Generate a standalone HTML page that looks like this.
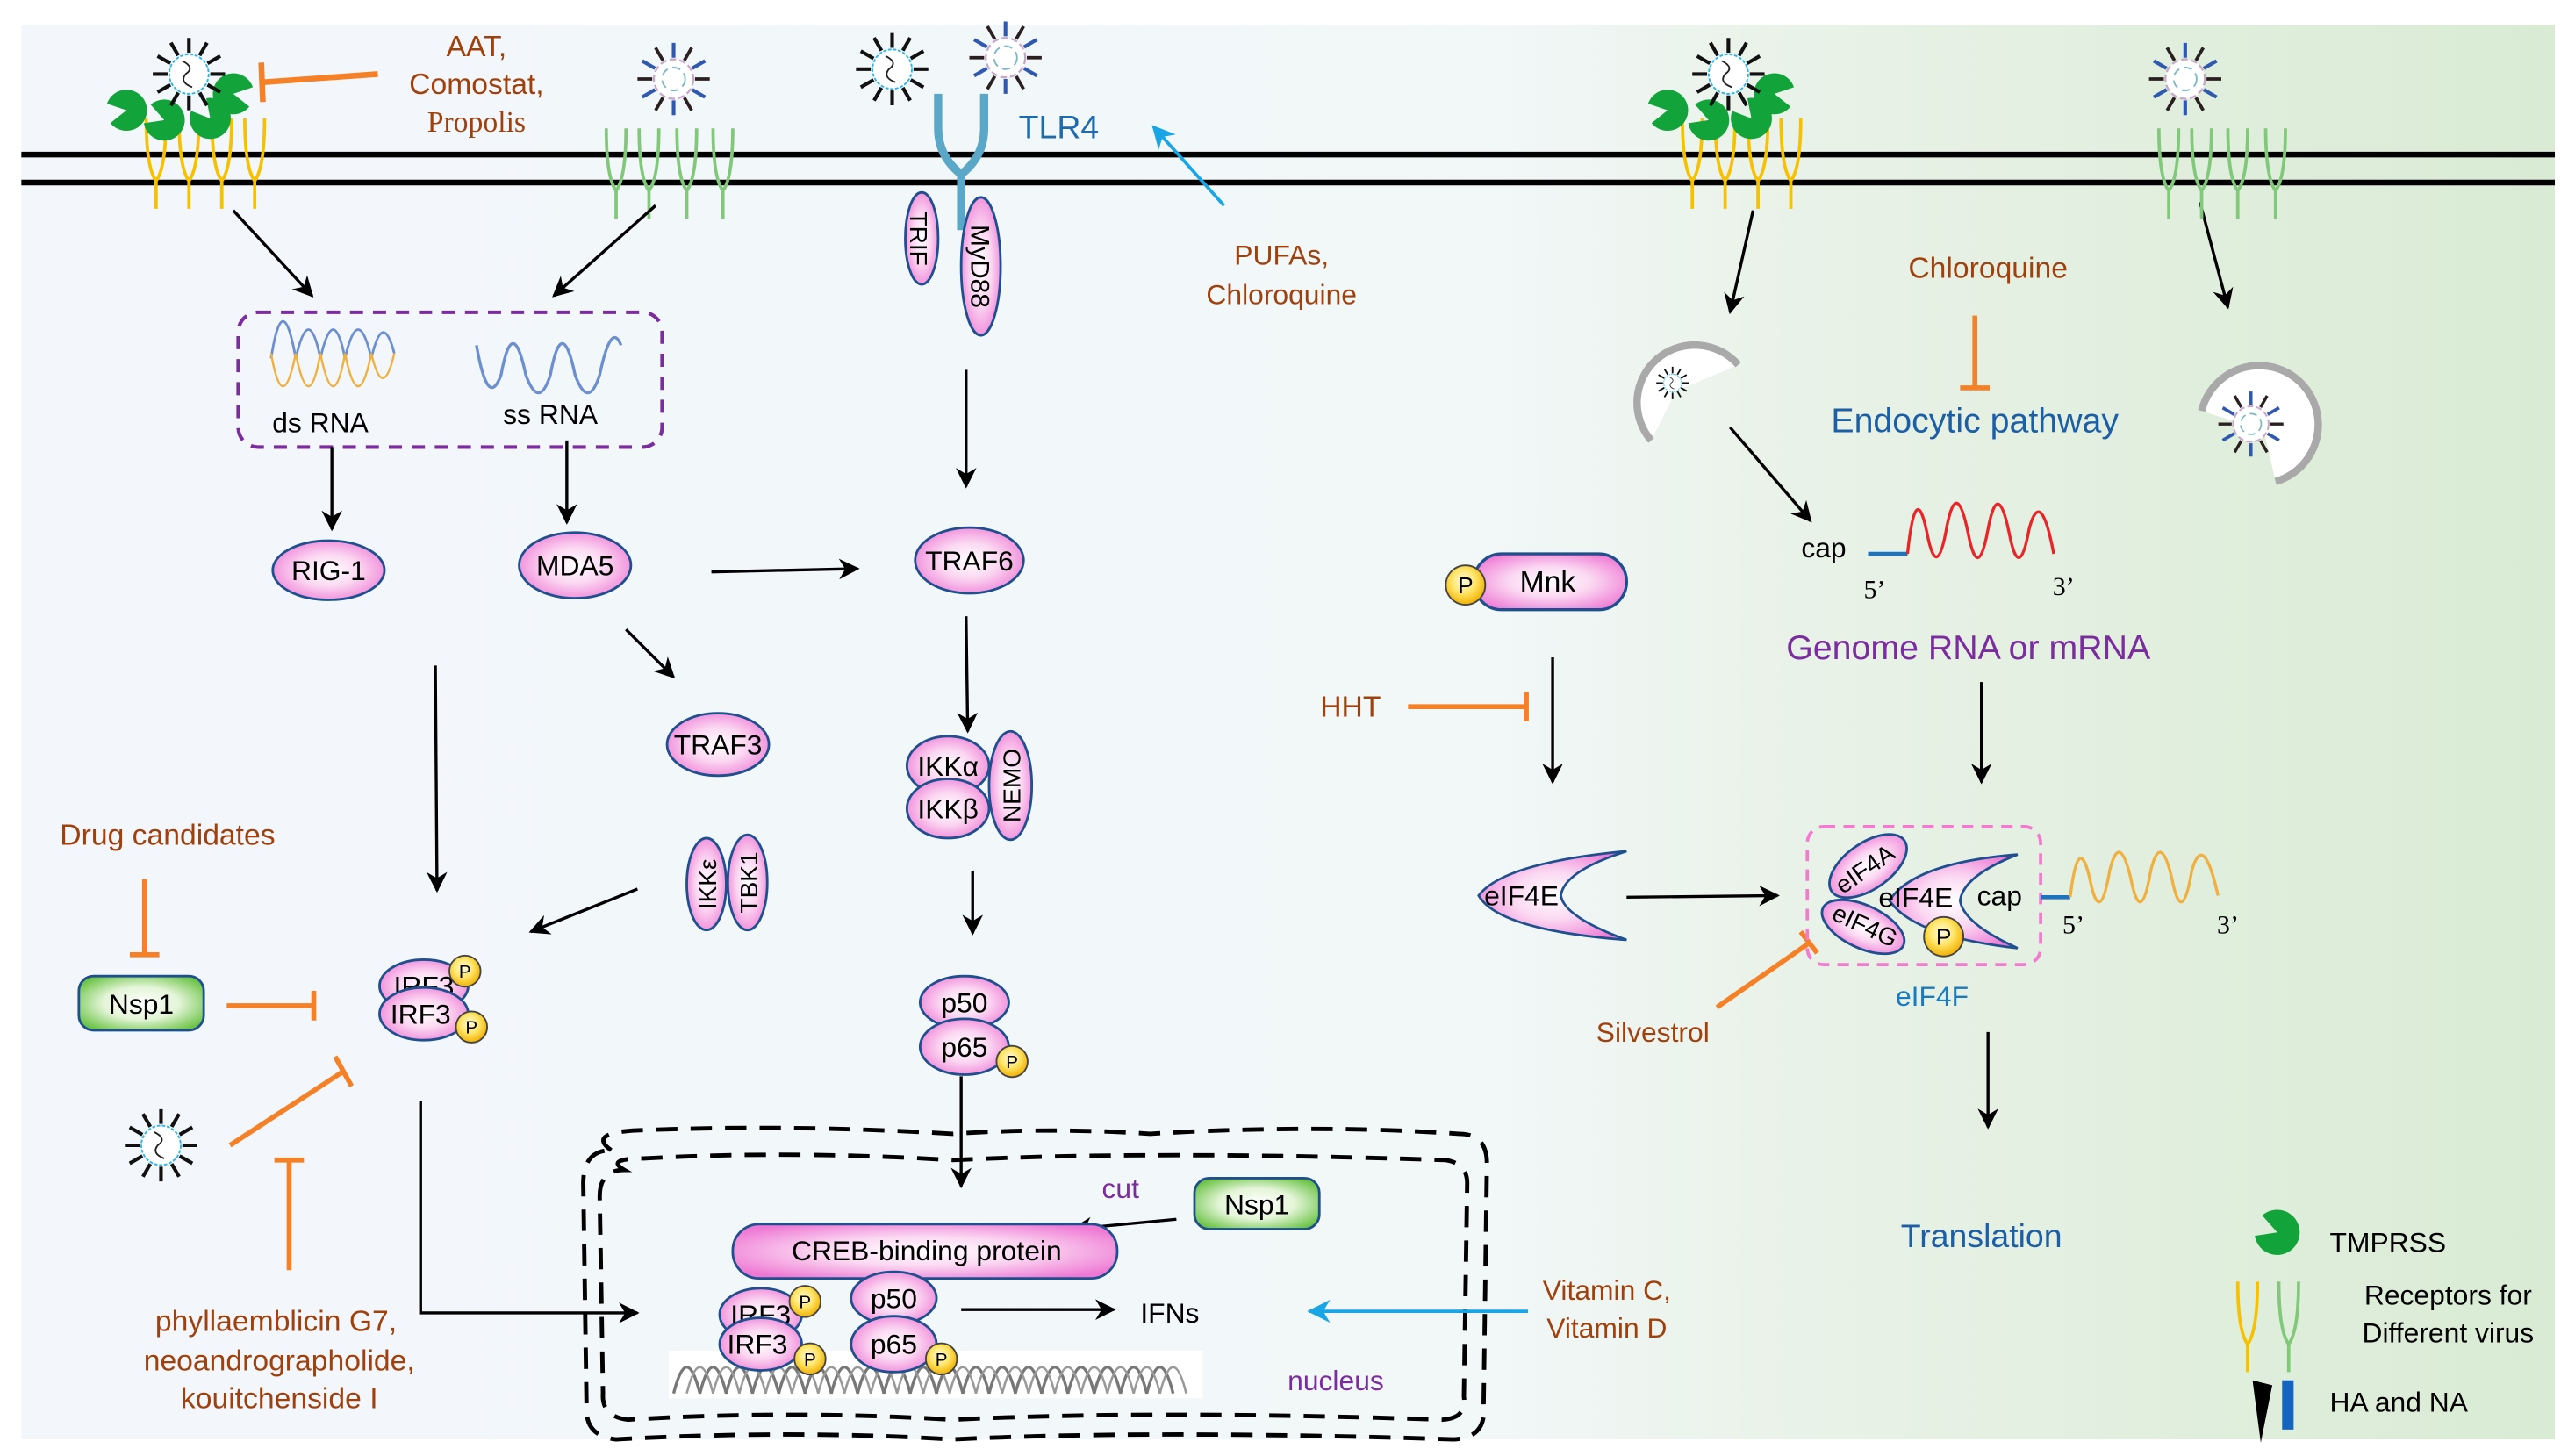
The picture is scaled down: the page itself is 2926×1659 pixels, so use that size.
<!DOCTYPE html>
<html><head><meta charset="utf-8"><style>
html,body{margin:0;padding:0;background:#fff;}
svg{display:block;}
text{font-family:"Liberation Sans",Arial,sans-serif;}
.s{font-family:"Liberation Serif",serif;}
</style></head><body>
<svg width="2926" height="1659" viewBox="0 0 1563 886" xmlns="http://www.w3.org/2000/svg">
<defs>
<linearGradient id="bg" x1="0" y1="0" x2="1" y2="0">
<stop offset="0" stop-color="#f3f7fc"/><stop offset="0.58" stop-color="#f2f7f8"/><stop offset="0.7" stop-color="#e9f2e8"/><stop offset="1" stop-color="#d9ebd4"/></linearGradient>
<radialGradient id="pk" cx="0.5" cy="0.5" r="0.6"><stop offset="0" stop-color="#fff"/><stop offset="0.45" stop-color="#fbd8f2"/><stop offset="1" stop-color="#ee78d4"/></radialGradient>
<radialGradient id="gr" cx="0.5" cy="0.5" r="0.6"><stop offset="0" stop-color="#fff"/><stop offset="0.5" stop-color="#e4f5d8"/><stop offset="1" stop-color="#6cc447"/></radialGradient>
<radialGradient id="yl" cx="0.45" cy="0.4" r="0.6"><stop offset="0" stop-color="#fffbe0"/><stop offset="0.5" stop-color="#ffe66a"/><stop offset="1" stop-color="#f2b000"/></radialGradient>
<marker id="ah" viewBox="0 0 10 10" refX="9" refY="5" markerWidth="7" markerHeight="7" orient="auto-start-reverse"><path d="M0,0 L10,5 L0,10 L3,5 Z" fill="#000"/></marker>
<marker id="ab" viewBox="0 0 10 10" refX="9" refY="5" markerWidth="7" markerHeight="7" orient="auto"><path d="M0,0 L10,5 L0,10 L3,5 Z" fill="#19a6e6"/></marker>
<g id="spk"><path d="M13,0L22,0M11.3,6.5L19.1,11M6.5,11.3L11,19.1M0,13L0,22M-6.5,11.3L-11,19.1M-11.3,6.5L-19.1,11M-13,0L-22,0M-11.3,-6.5L-19.1,-11M-6.5,-11.3L-11,-19.1M0,-13L0,-22M6.5,-11.3L11,-19.1M11.3,-6.5L19.1,-11" stroke-width="2.2"/></g>
<g id="vir"><circle r="12" fill="#fff" stroke="#29b6e8" stroke-width="1" stroke-dasharray="2 1"/><path d="M-4,-8 Q4,-4 -2,0 Q-6,5 2,8" fill="none" stroke="#222" stroke-width="1"/><use href="#spk" stroke="#111"/></g>
<g id="virb"><circle r="12" fill="#fff" stroke="#c8a6c8" stroke-width="1.2" stroke-dasharray="4 2"/><circle r="7" fill="none" stroke="#7ab8c8" stroke-width="1" stroke-dasharray="5 3"/><path d="M13,0L22,0M6.5,11.3L11,19.1M-6.5,11.3L-11,19.1M-13,0L-22,0M-6.5,-11.3L-11,-19.1M6.5,-11.3L11,-19.1" stroke="#2a2020" stroke-width="2"/><path d="M11.3,6.5L19.1,11M0,13L0,22M-11.3,6.5L-19.1,11M-11.3,-6.5L-19.1,-11M0,-13L0,-22M11.3,-6.5L19.1,-11" stroke="#2f58b0" stroke-width="2.2"/></g>
<path id="yy" d="M-6,0 Q-6,30 0,38 Q6,30 6,0 M0,36 L0,55" fill="none" stroke-width="2"/>
<path id="pac" d="M0,0 L11,-6 A12.5,12.5 0 1,0 11,6 Z" fill="#12a33a"/>
</defs>

<rect x="0" y="0" width="1563" height="886" fill="#fff"/>
<rect x="13" y="15" width="1542" height="861" fill="url(#bg)"/>

<line x1="13" y1="94" x2="1555" y2="94" stroke="#000" stroke-width="3.5"/>
<line x1="13" y1="111" x2="1555" y2="111" stroke="#000" stroke-width="3.5"/>

<g stroke="#f6c100"><use href="#yy" x="95" y="72"/><use href="#yy" x="115" y="72"/><use href="#yy" x="135" y="72"/><use href="#yy" x="155" y="72"/></g>
<use href="#pac" transform="translate(77,67) rotate(170)"/>
<use href="#pac" transform="translate(100,73) rotate(200)"/>
<use href="#pac" transform="translate(128,72) rotate(230)"/>
<use href="#pac" transform="translate(142,57) rotate(10)"/>
<use href="#vir" x="115" y="45"/>
<g stroke="#82c87a"><use href="#yy" x="375" y="78"/><use href="#yy" x="395" y="78"/><use href="#yy" x="418" y="78"/><use href="#yy" x="440" y="78"/></g>
<use href="#virb" x="410" y="48"/>
<use href="#vir" x="543" y="42"/>
<use href="#virb" x="612" y="35"/>
<path d="M571,57 L571,78 Q571,95 585,106 Q599,95 599,78 L599,57 M585,104 L585,140" fill="none" stroke="#5aa7c8" stroke-width="5"/>
<text x="620" y="84" font-size="20" fill="#1f6aae">TLR4</text>
<line x1="745" y1="125" x2="702" y2="77" stroke="#19a6e6" stroke-width="2" marker-end="url(#ab)"/>
<ellipse cx="561" cy="145" rx="10" ry="28" fill="url(#pk)" stroke="#1e4f8f" stroke-width="1.5"/>
<text transform="translate(554,145) rotate(90)" font-size="15" text-anchor="middle">TRIF</text>
<ellipse cx="597" cy="162" rx="12" ry="42" fill="url(#pk)" stroke="#1e4f8f" stroke-width="1.5"/>
<text transform="translate(591,162) rotate(90)" font-size="16" text-anchor="middle">MyD88</text>

<text x="290" y="34" font-size="18" fill="#a0410d" text-anchor="middle">AAT,</text>
<text x="290" y="57" font-size="18" fill="#a0410d" text-anchor="middle">Comostat,</text>
<text x="290" y="80" font-size="18" fill="#a0410d" text-anchor="middle" class="s">Propolis</text>
<line x1="230" y1="45" x2="160" y2="50" stroke="#f58025" stroke-width="3.5"/>
<line x1="159" y1="38" x2="160" y2="62" stroke="#f58025" stroke-width="3.5"/>
<text x="780" y="161" font-size="17" fill="#a0410d" text-anchor="middle">PUFAs,</text>
<text x="780" y="185" font-size="17" fill="#a0410d" text-anchor="middle">Chloroquine</text>

<rect x="145" y="190" width="258" height="82" rx="12" fill="none" stroke="#7b2c9e" stroke-width="2.2" stroke-dasharray="8 6"/>
<path d="M165,225 Q172,180 180,225 Q188,190 195,225 Q203,190 210,225 Q218,190 226,225 Q233,195 240,222" fill="none" stroke="#6c8fcf" stroke-width="1.5" transform="translate(0,-7)"/>
<path d="M165,215 Q172,255 180,215 Q188,255 195,215 Q203,255 210,215 Q218,255 226,215 Q233,245 240,215" fill="none" stroke="#f0b040" stroke-width="1.3"/>
<path d="M290,210 Q297,250 305,228 Q312,190 320,228 Q328,250 335,228 Q342,190 350,228 Q358,250 365,228 Q372,195 378,210" fill="none" stroke="#6c8fcf" stroke-width="1.8"/>
<text x="195" y="263" font-size="17" text-anchor="middle">ds RNA</text>
<text x="335" y="258" font-size="17" text-anchor="middle">ss RNA</text>

<g stroke="#000" stroke-width="1.8" fill="none" marker-end="url(#ah)">
<line x1="142" y1="128" x2="190" y2="180"/>
<line x1="399" y1="125" x2="337" y2="180"/>
<line x1="202" y1="272" x2="202" y2="322"/>
<line x1="345" y1="268" x2="345" y2="318"/>
<line x1="433" y1="348" x2="522" y2="346"/>
<line x1="588" y1="225" x2="588" y2="296"/>
<line x1="381" y1="383" x2="410" y2="412"/>
<line x1="588" y1="375" x2="589" y2="445"/>
<line x1="265" y1="405" x2="266" y2="542"/>
<line x1="592" y1="530" x2="592" y2="568"/>
<line x1="388" y1="541" x2="323" y2="567"/>
<line x1="585" y1="655" x2="585" y2="722"/>
<path d="M256,670 L256,799 L388,799"/>
<line x1="716" y1="742" x2="653" y2="748"/>
<line x1="585" y1="797" x2="678" y2="797"/>
<line x1="1067" y1="128" x2="1053" y2="190"/>
<line x1="1339" y1="123" x2="1356" y2="187"/>
<line x1="1053" y1="260" x2="1102" y2="317"/>
<line x1="945" y1="400" x2="945" y2="476"/>
<line x1="1206" y1="415" x2="1206" y2="476"/>
<line x1="990" y1="546" x2="1082" y2="545"/>
<line x1="1210" y1="628" x2="1210" y2="686"/>
</g>

<g fill="url(#pk)" stroke="#1e4f8f" stroke-width="1.5">
<ellipse cx="200" cy="347" rx="34" ry="18"/>
<ellipse cx="350" cy="344" rx="34" ry="20"/>
<ellipse cx="590" cy="341" rx="33" ry="20"/>
<ellipse cx="437" cy="453" rx="31" ry="19"/>
<ellipse cx="430" cy="538" rx="12" ry="28"/>
<ellipse cx="455" cy="537" rx="12" ry="29"/>
<ellipse cx="615" cy="478" rx="13" ry="33"/>
<ellipse cx="577" cy="466" rx="25" ry="18"/>
<ellipse cx="577" cy="492" rx="25" ry="18"/>
<ellipse cx="258" cy="600" rx="27" ry="16"/>
</g>
<text x="258" y="606" font-size="17" text-anchor="middle">IRF3</text>
<g fill="url(#pk)" stroke="#1e4f8f" stroke-width="1.5">
<ellipse cx="258" cy="617" rx="27" ry="16"/>
<ellipse cx="587" cy="610" rx="27" ry="16"/>
<ellipse cx="587" cy="637" rx="27" ry="17"/>
</g>
<g font-size="17" text-anchor="middle">
<text x="200" y="353">RIG-1</text>
<text x="350" y="350">MDA5</text>
<text x="590" y="347">TRAF6</text>
<text x="437" y="459">TRAF3</text>
<text x="577" y="472">IKKα</text>
<text x="577" y="498">IKKβ</text>
<text x="256" y="623">IRF3</text>
<text x="587" y="616">p50</text>
<text x="587" y="643">p65</text>
</g>
<text transform="translate(436,538) rotate(-90)" font-size="15" text-anchor="middle">IKKε</text>
<text transform="translate(461,537) rotate(-90)" font-size="15" text-anchor="middle">TBK1</text>
<text transform="translate(621,478) rotate(-90)" font-size="15" text-anchor="middle">NEMO</text>

<g fill="url(#yl)" stroke="#444" stroke-width="1">
<circle cx="283" cy="591" r="9.5"/><circle cx="287" cy="625" r="9.5"/><circle cx="616" cy="646" r="9.5"/>
</g>
<g font-size="11" text-anchor="middle">
<text x="283" y="595">P</text><text x="287" y="629">P</text><text x="616" y="650">P</text>
</g>

<text x="102" y="514" font-size="18" fill="#a0410d" text-anchor="middle">Drug candidates</text>
<g stroke="#f58025" stroke-width="3" fill="none">
<path d="M88,535 L88,581 M79,581 L97,581"/>
<path d="M138,612 L191,612 M191,603 L191,621"/>
<path d="M140,697 L209,652 M204,643 L214,661"/>
<path d="M176,773 L176,706 M167,706 L185,706"/>
<path d="M857,430 L929,430 M929,421 L929,439"/>
<path d="M1202,192 L1202,236 M1193,236 L1211,236"/>
<path d="M1045,613 L1101,574 M1096,567 L1106,580"/>
</g>
<rect x="48" y="594" width="76" height="33" rx="9" fill="url(#gr)" stroke="#1e4f8f" stroke-width="1.5"/>
<text x="86" y="617" font-size="17" text-anchor="middle">Nsp1</text>
<use href="#vir" x="98" y="697"/>
<text x="168" y="810" font-size="18" fill="#a0410d" text-anchor="middle">phyllaemblicin G7,</text>
<text x="170" y="834" font-size="18" fill="#a0410d" text-anchor="middle">neoandrographolide,</text>
<text x="170" y="857" font-size="18" fill="#a0410d" text-anchor="middle">kouitchenside I</text>

<g fill="none" stroke="#000" stroke-width="2.6" stroke-dasharray="13 8">
<path d="M372,700 Q358,690 385,688 Q480,684 580,690 Q640,686 700,690 Q800,684 888,690 Q905,690 905,708 L903,855 Q905,875 885,876 Q700,870 580,876 Q480,870 375,876 Q356,874 357,856 L355,720 Q355,700 372,700 Z"/>
<path d="M380,712 Q368,705 392,705 Q480,700 580,706 Q700,700 880,706 Q893,708 893,720 L891,850 Q893,863 878,864 Q700,858 580,864 Q480,858 382,864 Q366,862 367,848 L365,728 Q365,712 380,712 Z"/>
</g>
<rect x="407" y="822" width="325" height="29" fill="#fff"/>
<path d="M410,848 Q418,816 426,848 Q434,816 442,848 Q450,816 458,848 Q466,816 474,848 Q482,816 490,848 Q498,816 506,848 Q514,816 522,848 Q530,816 538,848 Q546,816 554,848 Q562,816 570,848 Q578,816 586,848 Q594,816 602,848 Q610,816 618,848 Q626,816 634,848 Q642,816 650,848 Q658,816 666,848 Q674,816 682,848 Q690,816 698,848 Q706,816 714,848" fill="none" stroke="#777" stroke-width="1.8"/>
<path d="M418,848 Q426,816 434,848 Q442,816 450,848 Q458,816 466,848 Q474,816 482,848 Q490,816 498,848 Q506,816 514,848 Q522,816 530,848 Q538,816 546,848 Q554,816 562,848 Q570,816 578,848 Q586,816 594,848 Q602,816 610,848 Q618,816 626,848 Q634,816 642,848 Q650,816 658,848 Q666,816 674,848 Q682,816 690,848 Q698,816 706,848 Q714,816 722,848" fill="none" stroke="#999" stroke-width="1.4"/>
<g fill="url(#pk)" stroke="#1e4f8f" stroke-width="1.5">
<rect x="446" y="745" width="234" height="33" rx="16"/>
<ellipse cx="463" cy="800" rx="25" ry="16"/>
</g>
<text x="463" y="806" font-size="17" text-anchor="middle">IRF3</text>
<g fill="url(#pk)" stroke="#1e4f8f" stroke-width="1.5">
<ellipse cx="463" cy="818" rx="25" ry="16"/>
<ellipse cx="544" cy="790" rx="26" ry="16"/>
<ellipse cx="544" cy="818" rx="26" ry="17"/>
</g>
<g fill="url(#yl)" stroke="#444" stroke-width="1"><circle cx="490" cy="792" r="9.5"/><circle cx="493" cy="827" r="9.5"/><circle cx="573" cy="827" r="9.5"/></g>
<g font-size="11" text-anchor="middle"><text x="490" y="796">P</text><text x="493" y="831">P</text><text x="573" y="831">P</text></g>
<g font-size="17" text-anchor="middle">
<text x="564" y="767">CREB-binding protein</text>
<text x="461" y="824">IRF3</text>
<text x="544" y="796">p50</text>
<text x="544" y="824">p65</text>
<text x="712" y="805">IFNs</text>
</g>
<text x="682" y="729" font-size="17" fill="#7b2c9e" text-anchor="middle">cut</text>
<rect x="727" y="717" width="76" height="31" rx="9" fill="url(#gr)" stroke="#1e4f8f" stroke-width="1.5"/>
<text x="765" y="739" font-size="17" text-anchor="middle">Nsp1</text>
<text x="813" y="846" font-size="17" fill="#7b2c9e" text-anchor="middle">nucleus</text>
<line x1="930" y1="798" x2="797" y2="798" stroke="#19a6e6" stroke-width="2" marker-end="url(#ab)"/>
<text x="978" y="791" font-size="17" fill="#a0410d" text-anchor="middle">Vitamin C,</text>
<text x="978" y="814" font-size="17" fill="#a0410d" text-anchor="middle">Vitamin D</text>

<g stroke="#f6c100"><use href="#yy" x="1030" y="72"/><use href="#yy" x="1050" y="72"/><use href="#yy" x="1070" y="72"/><use href="#yy" x="1090" y="72"/></g>
<use href="#pac" transform="translate(1015,67) rotate(170)"/>
<use href="#pac" transform="translate(1040,73) rotate(200)"/>
<use href="#pac" transform="translate(1066,72) rotate(230)"/>
<use href="#pac" transform="translate(1080,57) rotate(10)"/>
<use href="#vir" x="1052" y="45"/>
<g stroke="#82c87a"><use href="#yy" x="1320" y="78"/><use href="#yy" x="1340" y="78"/><use href="#yy" x="1362" y="78"/><use href="#yy" x="1385" y="78"/></g>
<use href="#virb" x="1330" y="48"/>

<path d="M1058,222 A34,34 0 1,0 1005,268 L1020,238 Z" fill="#fff"/>
<path d="M1058,222 A34,34 0 1,0 1005,268" fill="none" stroke="#a9a9a9" stroke-width="4.5"/>
<use href="#vir" transform="translate(1018,233) scale(0.45)"/>
<path d="M1340,250 A36,36 0 1,1 1385,293 L1378,262 Z" fill="#fff"/>
<path d="M1340,250 A36,36 0 1,1 1385,293" fill="none" stroke="#a9a9a9" stroke-width="4.5"/>
<use href="#virb" transform="translate(1370,258) scale(0.9)"/>

<text x="1210" y="169" font-size="18" fill="#a0410d" text-anchor="middle">Chloroquine</text>
<text x="1202" y="263" font-size="21" fill="#1d5fa6" text-anchor="middle">Endocytic pathway</text>
<text x="1110" y="339" font-size="17" text-anchor="middle">cap</text>
<line x1="1137" y1="337" x2="1161" y2="337" stroke="#1e73c0" stroke-width="2.5"/>
<path d="M1161,337 Q1166,290 1173,325 Q1179,355 1185,320 Q1191,290 1198,325 Q1204,355 1210,322 Q1216,290 1223,325 Q1229,355 1235,322 Q1242,295 1250,337" fill="none" stroke="#e8262a" stroke-width="1.8"/>
<text x="1141" y="364" font-size="16" class="s" text-anchor="middle">5’</text>
<text x="1256" y="362" font-size="16" class="s" text-anchor="middle">3’</text>
<text x="1198" y="401" font-size="21" fill="#7b2c9e" text-anchor="middle">Genome RNA or mRNA</text>
<rect x="897" y="337" width="93" height="34" rx="17" fill="url(#pk)" stroke="#1e4f8f" stroke-width="1.8"/>
<circle cx="892" cy="356" r="12" fill="url(#yl)" stroke="#444"/>
<text x="892" y="361" font-size="14" text-anchor="middle">P</text>
<text x="942" y="360" font-size="18" text-anchor="middle">Mnk</text>
<text x="822" y="436" font-size="18" fill="#a0410d" text-anchor="middle">HHT</text>

<path d="M990,518 Q915,525 900,545 Q912,566 990,572 Q952,558 950,545 Q952,530 990,518 Z" fill="url(#pk)" stroke="#1e4f8f" stroke-width="1.5"/>
<text x="926" y="551" font-size="17" text-anchor="middle">eIF4E</text>

<rect x="1100" y="503" width="142" height="84" rx="10" fill="none" stroke="#f47ad0" stroke-width="2" stroke-dasharray="7 5"/>
<path d="M1228,520 Q1165,525 1150,548 Q1165,570 1228,577 Q1195,562 1193,548 Q1195,533 1228,520 Z" fill="url(#pk)" stroke="#1e4f8f" stroke-width="1.5"/>
<ellipse cx="1137" cy="527" rx="27" ry="14" transform="rotate(-35 1137 527)" fill="url(#pk)" stroke="#1e4f8f" stroke-width="1.5"/>
<ellipse cx="1134" cy="564" rx="27" ry="13" transform="rotate(25 1134 564)" fill="url(#pk)" stroke="#1e4f8f" stroke-width="1.5"/>
<text transform="translate(1138,533) rotate(-35)" font-size="15" text-anchor="middle">eIF4A</text>
<text transform="translate(1133,568) rotate(25)" font-size="15" text-anchor="middle">eIF4G</text>
<text x="1166" y="552" font-size="17" text-anchor="middle">eIF4E</text>
<text x="1217" y="551" font-size="17" text-anchor="middle">cap</text>
<circle cx="1183" cy="570" r="12" fill="url(#yl)" stroke="#444"/>
<text x="1183" y="575" font-size="14" text-anchor="middle">P</text>
<line x1="1242" y1="546" x2="1260" y2="546" stroke="#1e73c0" stroke-width="2.5"/>
<path d="M1260,546 Q1265,505 1272,535 Q1278,565 1284,530 Q1290,505 1297,535 Q1303,565 1309,530 Q1315,505 1322,535 Q1328,565 1334,530 Q1341,505 1350,545" fill="none" stroke="#f0b040" stroke-width="1.8"/>
<text x="1262" y="568" font-size="16" class="s" text-anchor="middle">5’</text>
<text x="1356" y="568" font-size="16" class="s" text-anchor="middle">3’</text>
<text x="1176" y="612" font-size="17" fill="#1a7ac0" text-anchor="middle">eIF4F</text>
<text x="1006" y="634" font-size="17" fill="#a0410d" text-anchor="middle">Silvestrol</text>
<text x="1206" y="759" font-size="20" fill="#1d5fa6" text-anchor="middle">Translation</text>

<use href="#pac" transform="translate(1386,750) scale(1.1) rotate(200)"/>
<text x="1418" y="762" font-size="17">TMPRSS</text>
<use href="#yy" x="1368" y="780" stroke="#f6c100"/>
<use href="#yy" x="1393" y="780" stroke="#82c87a"/>
<text x="1490" y="794" font-size="17" text-anchor="middle">Receptors for</text>
<text x="1490" y="817" font-size="17" text-anchor="middle">Different virus</text>
<path d="M1371,840 L1383,843 L1376,878 Z" fill="#000"/>
<rect x="1389" y="840" width="7" height="30" fill="#1565c0"/>
<text x="1418" y="859" font-size="17">HA and NA</text>
</svg>
</body></html>
